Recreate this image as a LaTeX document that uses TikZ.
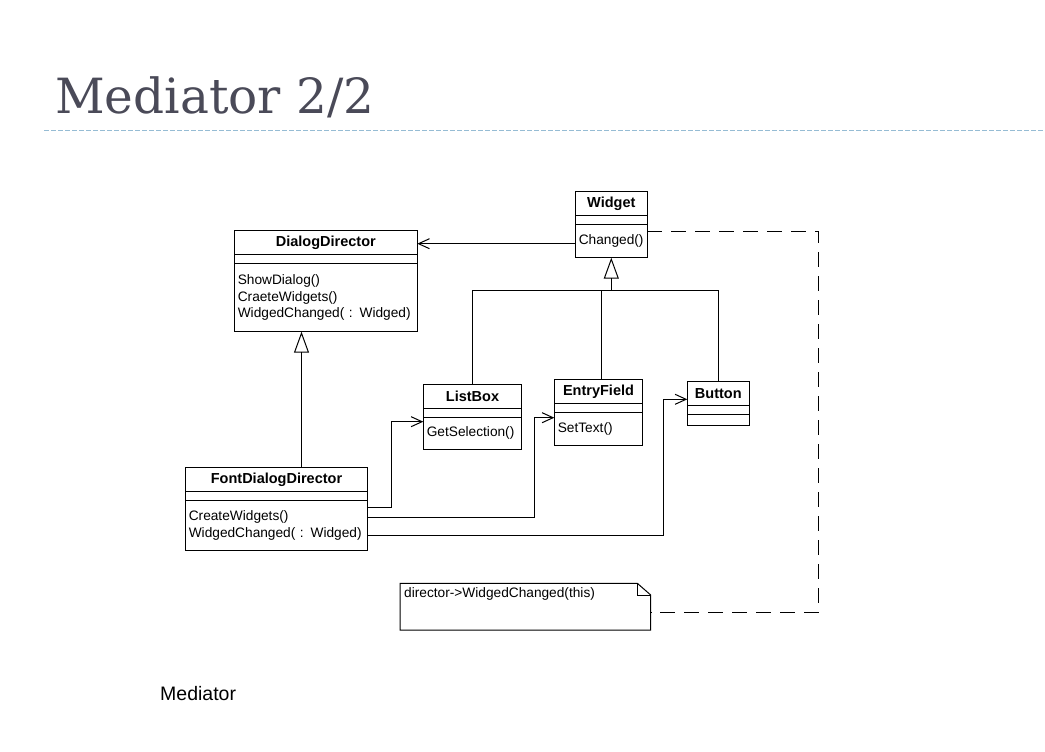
\documentclass[tikz,border=0pt]{standalone}
\usepackage{fontspec}
\usepackage{tikz}
\usetikzlibrary{arrows.meta, positioning}
\newfontfamily\umlfont{Liberation Sans}
\newfontfamily\headfont{DejaVu Serif}
\definecolor{headgray}{RGB}{74,74,88}
\definecolor{rulecolor}{RGB}{150,188,212}
\tikzset{
    classname/.style={rectangle, draw=black, line width=1pt, minimum height=24pt, inner sep=0pt, outer sep=0pt, font=\umlfont\fontsize{14.5}{16}\selectfont\bfseries},
    classgap/.style={rectangle, draw=black, line width=1pt, minimum height=9pt, inner sep=0pt, outer sep=0pt},
    classops/.style={rectangle, draw=black, line width=1pt, inner xsep=3.5pt, inner ysep=0pt, outer sep=0pt, align=left, font=\umlfont\fontsize{13.7}{16.5}\selectfont},
    notetext/.style={inner sep=4pt, anchor=north west, font=\umlfont\fontsize{13.7}{16.5}\selectfont},
    line/.style={line width=1pt},
    assoc/.style={line width=1pt, -{Straight Barb[length=11pt, width=10pt]}},
    inherit/.style={line width=1pt, -{Triangle[open, length=21pt, width=15pt]}},
    dashline/.style={line width=1pt, dash pattern=on 15pt off 9pt},
    titlerule/.style={line width=1pt, rulecolor, dash pattern=on 4.5pt off 2.5pt},
}
\begin{document}
\begin{tikzpicture}[x=1pt, y=-1pt]
  \useasboundingbox (0,0) rectangle (1045,752);
  \fill[white] (0,0) rectangle (1045,752);

  % heading
  \node[anchor=base west, inner sep=0pt, text=headgray, font=\headfont\fontsize{48.5}{56}\selectfont] (title) at (55,113.3) {Mediator 2/2};
  \draw[titlerule] (44,130.3) -- (1045,130.3);

  % classes
  \node[classname, minimum width=183pt] (ddname) at (325.8,242.7) {DialogDirector};
  \node[classgap, minimum width=183pt, below=0pt of ddname] (ddgap) {};
  \node[classops, text width=176pt, minimum height=68pt, below=0pt of ddgap] (ddops) {ShowDialog()\\CraeteWidgets()\\WidgedChanged( : Widged)};

  \node[classname, minimum width=72pt] (wgname) at (611.3,203.7) {Widget};
  \node[classgap, minimum width=72pt, below=0pt of wgname] (wggap) {};
  \node[classops, text width=65pt, minimum height=33pt, below=0pt of wggap] (wgops) {Changed()};

  \node[classname, minimum width=182.4pt] (fdname) at (276.5,479.3) {FontDialogDirector};
  \node[classgap, minimum width=182.4pt, below=0pt of fdname] (fdgap) {};
  \node[classops, text width=175.4pt, minimum height=50pt, below=0pt of fdgap] (fdops) {CreateWidgets()\\WidgedChanged( : Widged)};

  \node[classname, minimum width=98.4pt] (lbname) at (472.5,396.3) {ListBox};
  \node[classgap, minimum width=98.4pt, below=0pt of lbname] (lbgap) {};
  \node[classops, text width=91.4pt, minimum height=32pt, below=0pt of lbgap] (lbops) {GetSelection()};

  \node[classname, minimum width=88.4pt] (efname) at (598.5,391.3) {EntryField};
  \node[classgap, minimum width=88.4pt, below=0pt of efname] (efgap) {};
  \node[classops, text width=81.4pt, minimum height=33pt, below=0pt of efgap] (efops) {SetText()};

  \node[classname, minimum width=62pt] (btname) at (718.3,393.3) {Button};
  \node[classgap, minimum width=62pt, minimum height=9pt, below=0pt of btname] (btgap) {};
  \node[classgap, minimum width=62pt, minimum height=11pt, below=0pt of btgap] (btops) {};

  % note
  \node[notetext] (note) at (400,583.3) {director->WidgedChanged(this)};
  \draw[line] (note.north west) -- ++(237.3,0) -- ++(13.4,11.7) -- ++(0,35) -- ++(-250.7,0) -- cycle;
  \draw[line] ([xshift=237.3pt]note.north west) -- ++(0,11.7) -- ++(13.4,0);
  \coordinate (noteend) at ([xshift=250.7pt, yshift=-29.4pt]note.north west);

  % inheritance
  \coordinate (bar) at ([yshift=-32.7pt]wgops.south);
  \draw[inherit] (bar) -- (wgops.south);
  \draw[line] (lbname.north) |- (bar) -| (btname.north);
  \draw[line] ([xshift=3pt]efname.north) -- ([xshift=3pt]efname.north |- bar);
  \draw[inherit] ([xshift=25pt]fdname.north) -- ([xshift=25pt]fdname.north |- ddops.south);

  % associations
  \draw[assoc] ([yshift=-2.5pt]wgops.west) -- ([yshift=-2.5pt]wgops.west -| ddname.east);
  \draw[assoc] ([yshift=-6.7pt]fdops.north east) -- ++(23.3,0) |- ([yshift=-4.4pt]lbops.north west);
  \draw[assoc] ([yshift=-16.7pt]fdops.north east) -- ++(166.3,0) |- ([yshift=-5.4pt]efops.north west);
  \draw[assoc] ([yshift=-34.7pt]fdops.north east) -- ++(295.3,0) |- ([yshift=-6pt]btname.west);
  \draw[dashline] ([yshift=-6.4pt]wgops.north east) -- ++(171,0) |- (noteend);

  \node[anchor=base west, inner sep=0pt, font=\umlfont\fontsize{19.5}{22}\selectfont] (caption) at (160,700.7) {Mediator};
\end{tikzpicture}
\end{document}
